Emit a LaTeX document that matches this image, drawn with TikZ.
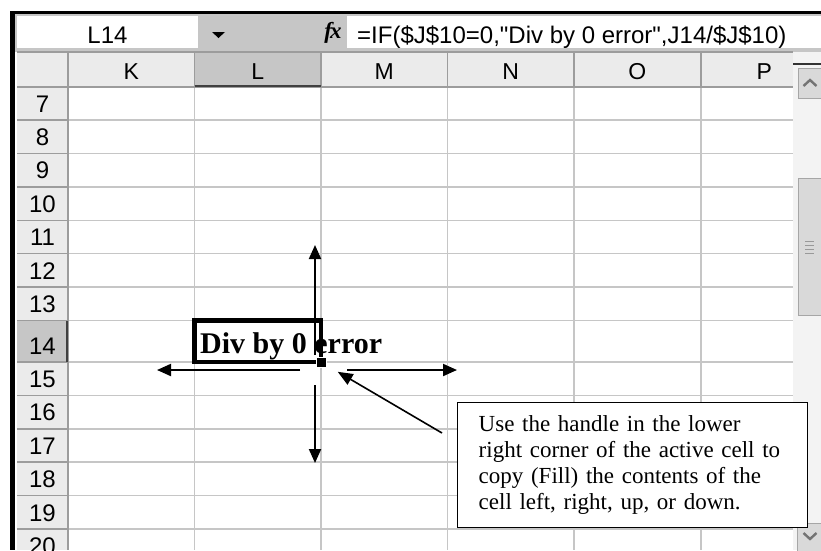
\documentclass[tikz,border=0pt]{standalone}
\usepackage{fontspec}
\setmainfont{Liberation Serif}
\setsansfont{Liberation Sans}[Ligatures=TeXOff]
\usepackage{xcolor}
\usetikzlibrary{arrows.meta}
\definecolor{gridgray}{HTML}{C6C6C6}
\definecolor{headgray}{HTML}{EBEBEB}
\definecolor{selgray}{HTML}{C6C6C6}
\definecolor{sepgray}{HTML}{9C9C9C}
\definecolor{trackgray}{HTML}{F3F3F3}
\definecolor{btngray}{HTML}{D9D9D9}
\tikzset{
  cellline/.style={gridgray,line width=1.5pt},
  headline/.style={sepgray,line width=1.5pt},
  uitext/.style={font=\sffamily\fontsize{24}{24}\selectfont,inner sep=0pt},
  colhead/.style={font=\sffamily\fontsize{23}{23}\selectfont,inner sep=0pt,anchor=base},
  rowhead/.style={font=\sffamily\fontsize{24}{24}\selectfont,inner sep=0pt,anchor=base},
  fillarrow/.style={line width=2pt,-{Triangle[length=14pt,width=12pt]}},
  pointer/.style={line width=1.6pt,-{Triangle[length=15pt,width=12pt]}},
  chevron/.style={line width=2.4pt,black!55},
}
\begin{document}
\begin{tikzpicture}[x=1pt,y=-1pt]
\useasboundingbox (0,0) rectangle (821,550);
\clip (0,0) rectangle (821,550);
\fill[white] (0,0) rectangle (821,550);
% formula bar
\fill[selgray] (15,14) rectangle (821,52);
\fill[white] (17,16) rectangle (198,48);
\fill[white] (347,16) rectangle (821,48);
\node[uitext,anchor=base] (namebox) at (107.5,43) {L14};
\fill (212,32) -- (225,32) -- (218.5,38) -- cycle;
\node[font=\fontsize{23}{23}\selectfont\bfseries\itshape,inner sep=0pt] (fx) at (333,33) {f\kern-2pt x};
\node[uitext,anchor=base west] (formula) at (357,43) {=IF(\$J\$10=0,"Div by 0 error",J14/\$J\$10)};
% headers
\fill[headgray] (17,52) rectangle (793,87);
\fill[headgray] (17,87) rectangle (68,550);
\fill[selgray] (194.5,52) rectangle (321,87);
\fill[selgray] (17,320.7) rectangle (68,362);
\foreach \x in {194.5,321,447.5,574,701} {
  \draw[cellline] (\x,87) -- (\x,550);
  \draw[headline] (\x,52) -- (\x,87);
}
\foreach \y in {120.1,153.5,186.9,220.3,253.7,287.2,320.7,362,395.4,428.8,462.2,495.6,529} {
  \draw[cellline] (68,\y) -- (793,\y);
  \draw[headline] (17,\y) -- (68,\y);
}
\draw[headline] (17,52) -- (793,52);
\draw[headline] (17,87) -- (793,87);
\draw[headline] (68,52) -- (68,550);
\draw[black!75,line width=1.5pt] (194.5,86) -- (321,86);
\draw[black!75,line width=1.5pt] (67,320.7) -- (67,362);
\foreach \c/\l in {K/68,L/194.5,M/321,N/447.5,O/574,P/701}
  \node[colhead] (col\c) at (\l+63.25,79) {\c};
\foreach \r/\b in {7/120.1,8/153.5,9/186.9,10/220.3,11/253.7,12/287.2,13/320.7,14/362,15/395.4,16/428.8,17/462.2,18/495.6,19/529,20/562.4}
  \node[rowhead] (row\r) at (42.5,\b-8) {\r};
% scroll bar
\fill[trackgray] (793,52) rectangle (821,550);
\draw[black!80,line width=2pt] (793,64) -- (821,64);
\filldraw[fill=btngray,draw=black!35] (798,68) rectangle (824,98);
\draw[chevron] (803.5,86) -- (810,80) -- (816.5,86);
\filldraw[fill=btngray,draw=black!35] (798,178) rectangle (824,315);
\foreach \y in {241,245,249,253}
  \draw[black!40,line width=0.8pt] (805,\y) -- (814,\y);
\filldraw[fill=btngray,draw=black!35] (797,523) rectangle (824,553);
\draw[chevron] (803.5,533) -- (810,539) -- (816.5,533);
% frame
\fill[black] (10,10.5) rectangle (821,14);
\fill[black] (10,10.5) rectangle (15,550);
% active cell
\draw[line width=4.5pt] (194.3,320.7) rectangle (321,362);
\node[font=\fontsize{30}{30}\selectfont\bfseries,inner sep=0pt,anchor=base west] (cell) at (200,353) {Div by 0 error};
\node[fill=black,draw=white,line width=1pt,minimum size=10pt,inner sep=0pt] (handle) at (321,362) {};
\coordinate (upFrom) at (315,355);
\coordinate (upTo) at (315,245);
\coordinate (downFrom) at (315,385);
\coordinate (downTo) at (315,463);
\coordinate (leftFrom) at (300,370);
\coordinate (leftTo) at (157,370);
\coordinate (rightFrom) at (347,370);
\coordinate (rightTo) at (457,370);
\draw[fillarrow] (upFrom) -- (upTo);
\draw[fillarrow] (downFrom) -- (downTo);
\draw[fillarrow] (leftFrom) -- (leftTo);
\draw[fillarrow] (rightFrom) -- (rightTo);
% note
\node[draw,line width=1.4pt,fill=white,anchor=north west,text width=308pt,inner xsep=21pt,
  minimum height=125pt,align=left,font=\fontsize{23}{26}\selectfont] (note) at (457,402)
  {Use the handle in the lower\\right corner of the active cell to\\copy (Fill) the contents of the\\cell left, right, up, or down.};
\coordinate (noteTail) at (442,433);
\draw[pointer,shorten >=13pt] (noteTail) -- (handle);
\end{tikzpicture}
\end{document}
